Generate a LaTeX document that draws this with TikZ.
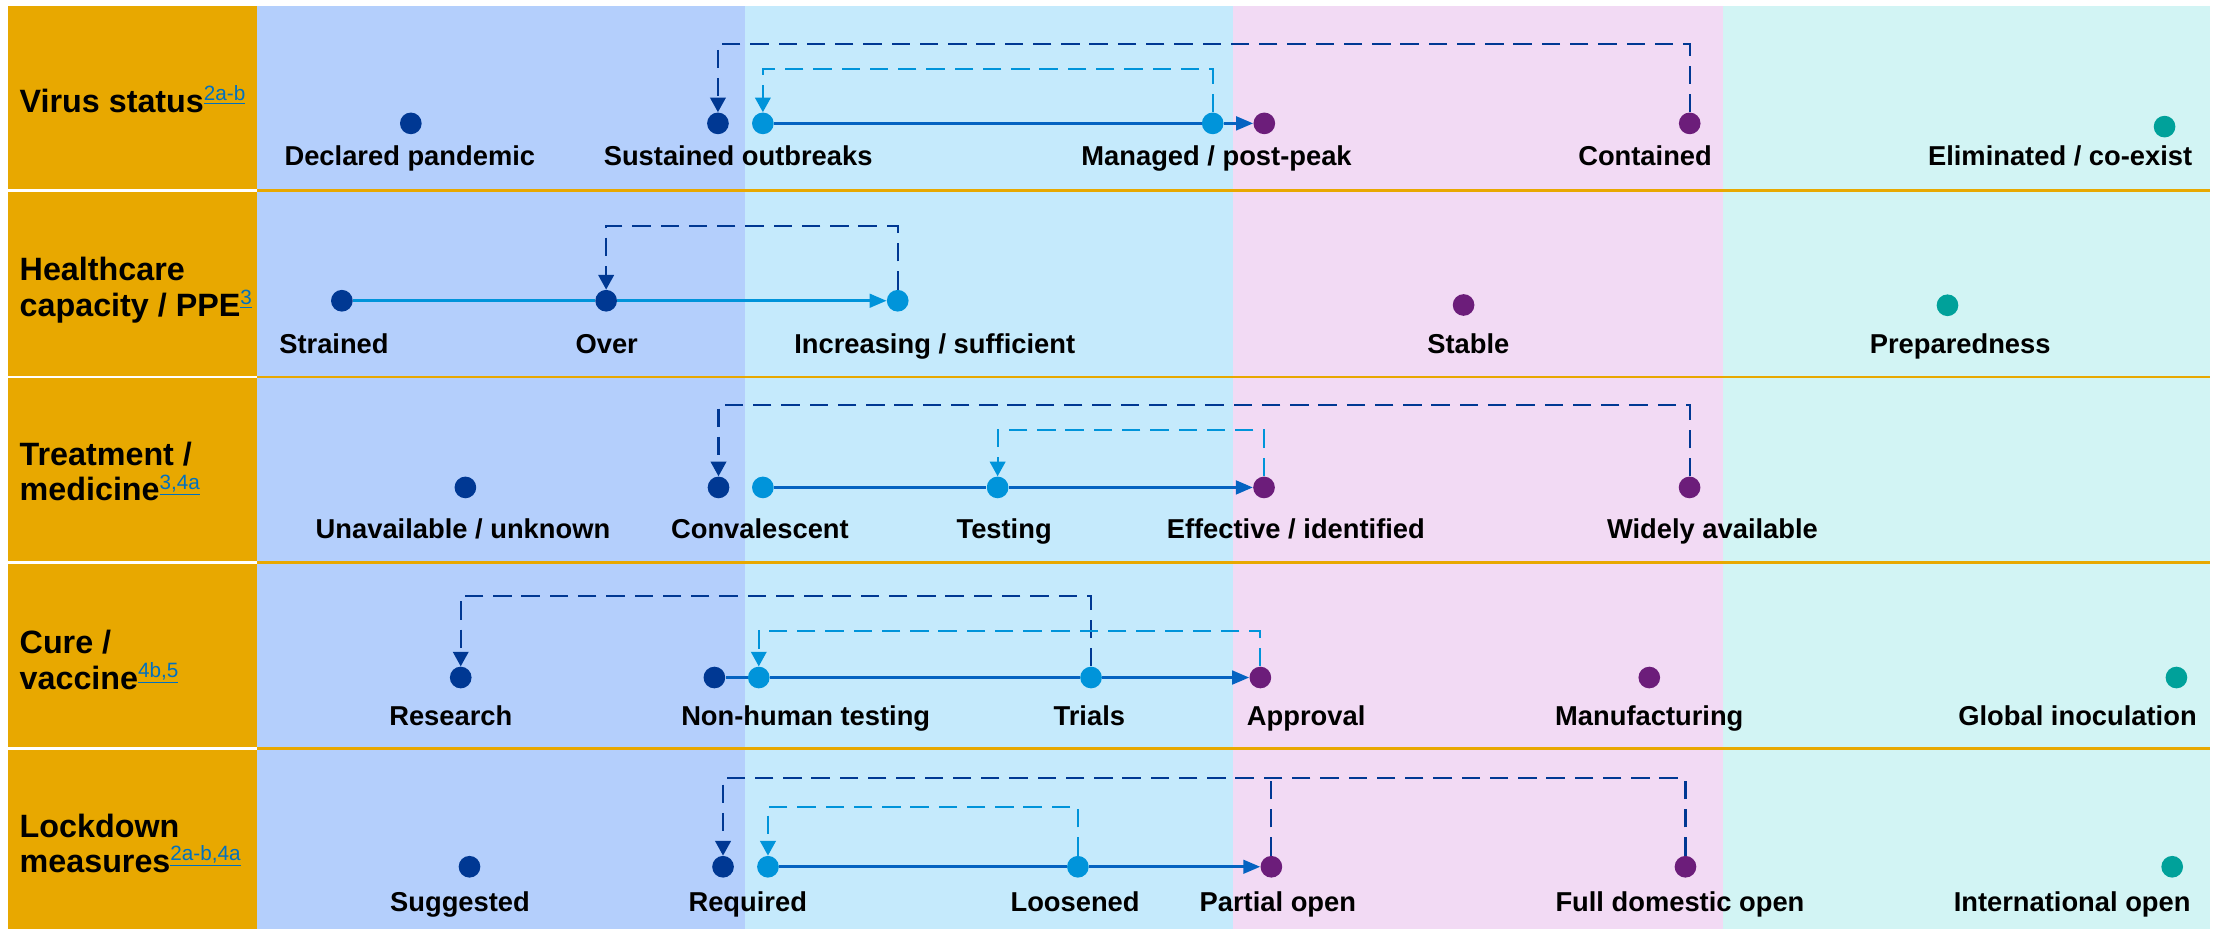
\documentclass[tikz,border=0pt]{standalone}
\usepackage{fontspec}
\setmainfont{Liberation Sans}
\usepackage{tikz}
\usetikzlibrary{arrows.meta, calc}

\definecolor{gold}{RGB}{232,168,0}
\definecolor{bandA}{RGB}{180,207,252}
\definecolor{bandB}{RGB}{197,234,252}
\definecolor{bandC}{RGB}{242,218,244}
\definecolor{bandD}{RGB}{210,244,244}
\definecolor{navy}{RGB}{0,56,147}
\definecolor{skyblue}{RGB}{0,148,218}
\definecolor{plum}{RGB}{108,29,122}
\definecolor{tealdot}{RGB}{0,161,154}
\definecolor{flowblue}{RGB}{5,99,193}
\definecolor{linkblue}{RGB}{0,112,192}

\newcommand{\refmark}[1]{\raisebox{7pt}{\fontsize{12.5}{13}\selectfont\mdseries\color{linkblue}\underline{#1}}}

\begin{document}
\begin{tikzpicture}[x=0.03cm, y=-0.03cm,
    dot/.style={circle, inner sep=0pt, minimum size=0.46cm},
    rowtitle/.style={anchor=north west, inner sep=0pt, align=left, font=\fontsize{19.5}{21.3}\selectfont\bfseries},
    stage/.style={anchor=base, inner sep=0pt, font=\fontsize{16.5}{18}\selectfont\bfseries},
    flowline/.style={flowblue, line width=1.6pt},
    flowtip/.style={-{Triangle[length=0.36cm, width=0.29cm]}},
    dashline/.style={line width=1.25pt, dash pattern=on 0.39cm off 0.21cm},
    droptip/.style={-{Triangle[length=0.31cm, width=0.33cm]}}]
    \useasboundingbox (0,0) rectangle (1568,657.3);

    % phase bands and row titles column
    \fill[gold] (5.4,4.2) rectangle (182,657.3);
    \fill[bandA] (182,4.2) rectangle (527.1,657.3);
    \fill[bandB] (527.1,4.2) rectangle (872.3,657.3);
    \fill[bandC] (872.3,4.2) rectangle (1218.9,657.3);
    \fill[bandD] (1218.9,4.2) rectangle (1564,657.3);
    \foreach \y in {135,266.7,398,529.7} {
        \draw[white, line width=1.7pt] (5.4,\y) -- (182,\y);
        \draw[gold, line width=1.7pt] (182,\y) -- (1564,\y);
    }

    \node[rowtitle] (virus) at (13.7,60.5) {Virus status\refmark{2a-b}};
    \node[rowtitle] (health) at (13.7,182) {Healthcare\\capacity / PPE\refmark{3}};
    \node[rowtitle] (treat) at (13.7,312.6) {Treatment /\\medicine\refmark{3,4a}};
    \node[rowtitle] (cure) at (13.7,445.8) {Cure /\\vaccine\refmark{4b,5}};
    \node[rowtitle] (lock) at (13.7,575.5) {Lockdown\\measures\refmark{2a-b,4a}};

    % virus status
    \node[dot, fill=navy] (declared) at (290.7,87.3) {};
    \node[dot, fill=navy] (sustained) at (508,87.3) {};
    \node[dot, fill=skyblue] (outbreaks) at (539.8,87.3) {};
    \node[dot, fill=skyblue] (managed) at (858.1,87.3) {};
    \node[dot, fill=plum] (postpeak) at (894.6,87.3) {};
    \node[dot, fill=plum] (contained) at (1195.6,87.3) {};
    \node[dot, fill=tealdot] (eliminated) at (1531.6,89.6) {};
    \node[stage] (declared-t) at (290,116.8) {Declared pandemic};
    \node[stage] (sustained-t) at (522.3,116.8) {Sustained outbreaks};
    \node[stage] (managed-t) at (860.8,116.8) {Managed / post-peak};
    \node[stage] (contained-t) at (1164,116.8) {Contained};
    \node[stage] (eliminated-t) at (1457.7,116.8) {Eliminated / co-exist};
    \draw[flowline] (outbreaks) -- (managed);
    \draw[flowline, flowtip] (managed) -- (postpeak);
    \draw[dashline, navy, droptip] (contained.north) -- (contained.north |- 0,31.1) -| (sustained.north);
    \draw[dashline, skyblue, droptip] (managed.north) -- (managed.north |- 0,49) -| (outbreaks.north);

    % healthcare capacity
    \node[dot, fill=navy] (strained) at (241.9,212.8) {};
    \node[dot, fill=navy] (over) at (428.9,212.8) {};
    \node[dot, fill=skyblue] (increasing) at (635.2,212.8) {};
    \node[dot, fill=plum] (stable) at (1035.6,215.8) {};
    \node[dot, fill=tealdot] (preparedness) at (1378,216) {};
    \node[stage] (strained-t) at (236.3,250) {Strained};
    \node[stage] (over-t) at (429.3,250) {Over};
    \node[stage] (increasing-t) at (661.4,250) {Increasing / sufficient};
    \node[stage] (stable-t) at (1039,250) {Stable};
    \node[stage] (preparedness-t) at (1387,250) {Preparedness};
    \draw[flowline, skyblue] (strained) -- (over);
    \draw[flowline, skyblue, flowtip] (over) -- (increasing);
    \draw[dashline, navy, droptip] (increasing.north) -- (increasing.north |- 0,159.7) -| (over.north);

    % treatment / medicine
    \node[dot, fill=navy] (unavailable) at (329.3,344.9) {};
    \node[dot, fill=navy] (convalescent) at (508.4,344.9) {};
    \node[dot, fill=skyblue] (convsky) at (539.8,344.9) {};
    \node[dot, fill=skyblue] (testing) at (705.9,344.9) {};
    \node[dot, fill=plum] (effective) at (894.4,344.9) {};
    \node[dot, fill=plum] (widely) at (1195.5,344.9) {};
    \node[stage] (unavailable-t) at (327.6,381) {Unavailable / unknown};
    \node[stage] (convalescent-t) at (537.7,381) {Convalescent};
    \node[stage] (testing-t) at (710.5,381) {Testing};
    \node[stage] (effective-t) at (916.9,381) {Effective / identified};
    \node[stage] (widely-t) at (1211.7,381) {Widely available};
    \draw[flowline] (convsky) -- (testing);
    \draw[flowline, flowtip] (testing) -- (effective);
    \draw[dashline, navy, droptip] (widely.north) -- (widely.north |- 0,286.6) -| (convalescent.north);
    \draw[dashline, skyblue, droptip] (effective.north) -- (effective.north |- 0,304.5) -| (testing.north);

    % cure / vaccine
    \node[dot, fill=navy] (research) at (326,479.4) {};
    \node[dot, fill=navy] (nonhuman) at (505.5,479.4) {};
    \node[dot, fill=skyblue] (nonhumansky) at (536.9,479.4) {};
    \node[dot, fill=skyblue] (trials) at (772,479.4) {};
    \node[dot, fill=plum] (approval) at (891.8,479.4) {};
    \node[dot, fill=plum] (manufacturing) at (1167,479.4) {};
    \node[dot, fill=tealdot] (inoculation) at (1540,479.4) {};
    \node[stage] (research-t) at (319,513) {Research};
    \node[stage] (nonhuman-t) at (570.1,513) {Non-human testing};
    \node[stage] (trials-t) at (770.8,513) {Trials};
    \node[stage] (approval-t) at (924.2,513) {Approval};
    \node[stage] (manufacturing-t) at (1167,513) {Manufacturing};
    \node[stage] (inoculation-t) at (1470,513) {Global inoculation};
    \draw[flowline] (nonhuman) -- (nonhumansky) -- (trials);
    \draw[flowline, flowtip] (trials) -- (approval);
    \draw[dashline, navy, droptip] (trials.north) -- (trials.north |- 0,421.5) -| (research.north);
    \draw[dashline, skyblue, droptip] (approval.north) -- (approval.north |- 0,446.3) -| (nonhumansky.north);

    % lockdown measures
    \node[dot, fill=navy] (suggested) at (332.2,613.3) {};
    \node[dot, fill=navy] (required) at (511.6,613.3) {};
    \node[dot, fill=skyblue] (requiredsky) at (543.4,613.3) {};
    \node[dot, fill=skyblue] (loosened) at (762.7,613.3) {};
    \node[dot, fill=plum] (partial) at (899.6,613.3) {};
    \node[dot, fill=plum] (fulldomestic) at (1192.6,613.3) {};
    \node[dot, fill=tealdot] (international) at (1537,613.3) {};
    \node[stage] (suggested-t) at (325.5,645) {Suggested};
    \node[stage] (required-t) at (529.1,645) {Required};
    \node[stage] (loosened-t) at (760.7,645) {Loosened};
    \node[stage] (partial-t) at (904.2,645) {Partial open};
    \node[stage] (fulldomestic-t) at (1188.7,645) {Full domestic open};
    \node[stage] (international-t) at (1466.2,645) {International open};
    \draw[flowline] (requiredsky) -- (loosened);
    \draw[flowline, flowtip] (loosened) -- (partial);
    \draw[dashline, navy, droptip] (fulldomestic.north) -- (fulldomestic.north |- 0,550.8) -| (required.north);
    \draw[dashline, navy] (partial.north) -- (partial.north |- 0,550.8);
    \draw[dashline, skyblue, droptip] (loosened.north) -- (loosened.north |- 0,570.9) -| (requiredsky.north);
\end{tikzpicture}
\end{document}
